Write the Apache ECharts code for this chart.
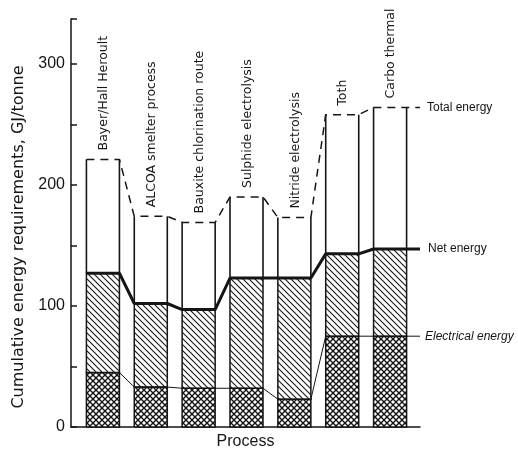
<!DOCTYPE html>
<html><head><meta charset="utf-8">
<script src="https://cdn.jsdelivr.net/npm/echarts@6/dist/echarts.min.js"></script>
<style>html,body{margin:0;padding:0;background:#fff}#c{width:518px;height:455px}</style>
</head><body><div id="c"></div>
<script>
const processes = ['Bayer/Hall Heroult','ALCOA smelter process','Bauxite chlorination route','Sulphide electrolysis','Nitride electrolysis','Toth','Carbo thermal'];
const electricalEnergy = [45, 33, 32, 32, 23, 75, 75];
const netEnergy = [127, 102, 97, 123, 123, 143, 147];
const totalEnergy = [221, 174, 169, 190, 173, 258, 264];
const yTickLabels = [0, 100, 200, 300];
const lineNames = ['Total energy', 'Net energy', 'Electrical energy'];
const yAxisTitle = 'Cumulative energy requirements, GJ/tonne';
const xAxisTitle = 'Process';

const HALF = 0.345;
const XMIN = -0.667, XMAX = 6.625;
const FONT = '"Liberation Sans", "DejaVu Sans", sans-serif';
const WIDE = '"DejaVu Sans", sans-serif';
const INK = '#151515';

function makePattern(kind){
  const s = 6;
  const c = document.createElement('canvas'); c.width = s; c.height = s;
  const g = c.getContext('2d');
  g.fillStyle = '#fff'; g.fillRect(0,0,s,s);
  g.strokeStyle = INK; g.lineWidth = kind === 'cross' ? 1.35 : 1.1;
  const seg = (x1,y1,x2,y2)=>{g.beginPath();g.moveTo(x1,y1);g.lineTo(x2,y2);g.stroke();};
  seg(-1,-1,s+1,s+1); seg(-s-1,-1,1,s+1); seg(s-1,-1,2*s+1,s+1);
  if (kind === 'cross') { seg(-1,s+1,s+1,-1); seg(-s-1,s+1,1,-1); seg(s-1,s+1,2*s+1,-1); }
  return c;
}
const crossPat = makePattern('cross');
const hatchPat = makePattern('hatch');

function stepLine(vals){
  const d = [];
  vals.forEach((v,i)=>{ d.push([i-HALF, v]); d.push([i+HALF, v]); });
  d.push([XMAX, vals[vals.length-1]]);
  return d;
}

const chart = echarts.init(document.getElementById('c'), null, {renderer:'canvas'});
chart.setOption({
  animation: false,
  backgroundColor: '#fff',
  grid: {left: 71, right: 98, top: 19, bottom: 27},
  graphic: [{
    type: 'text', x: 19, y: 237, rotation: Math.PI/2,
    style: {text: yAxisTitle, x: 0, y: 0, align: 'center', verticalAlign: 'middle',
            font: '16px ' + WIDE, fill: INK}
  }],
  xAxis: {
    type: 'value', min: XMIN, max: XMAX,
    axisLine: {show: true, onZero: false, lineStyle: {color: INK, width: 1.5}},
    axisTick: {show: false}, axisLabel: {show: false}, splitLine: {show: false},
    name: xAxisTitle, nameLocation: 'middle', nameGap: 7,
    nameTextStyle: {fontFamily: FONT, fontSize: 16, color: INK, verticalAlign: 'top'}
  },
  yAxis: {
    type: 'value', min: 0, max: 337, interval: 50,
    axisLine: {show: true, onZero: false, lineStyle: {color: INK, width: 1.5}},
    axisTick: {show: true, inside: true, length: 6, lineStyle: {color: INK, width: 1.5}},
    axisLabel: {margin: 6, fontFamily: FONT, fontSize: 16, color: INK,
      formatter: v => yTickLabels.indexOf(v) >= 0 ? String(v) : ''},
    splitLine: {show: false}
  },
  series: [
    {
      type: 'custom', z: 2,
      data: processes.map((p,i)=>[i, electricalEnergy[i], netEnergy[i], totalEnergy[i]]),
      encode: {x: 0, y: [1,2,3]},
      renderItem: function(params, api){
        const i = api.value(0);
        const pL = api.coord([i-HALF, 0]), pR = api.coord([i+HALF, 0]);
        const yE = api.coord([i, api.value(1)])[1];
        const yN = api.coord([i, api.value(2)])[1];
        const yT = api.coord([i, api.value(3)])[1];
        const x0 = pL[0], w = pR[0]-pL[0], y0 = pL[1];
        return {type:'group', children:[
          {type:'rect', shape:{x:x0, y:yE, width:w, height:y0-yE}, style:{fill:{image:crossPat, repeat:'repeat'}, stroke:INK, lineWidth:1.5}},
          {type:'rect', shape:{x:x0, y:yN, width:w, height:yE-yN}, style:{fill:{image:hatchPat, repeat:'repeat'}, stroke:INK, lineWidth:1.5}},
          {type:'line', shape:{x1:x0, y1:yN, x2:x0, y2:yT}, style:{stroke:INK, lineWidth:1.6}},
          {type:'line', shape:{x1:x0+w, y1:yN, x2:x0+w, y2:yT}, style:{stroke:INK, lineWidth:1.6}},
          {type:'text', x:x0+w/2+1, y:yT-9, rotation:Math.PI/2,
           style:{text:processes[i], x:0, y:0, align:'left', verticalAlign:'middle',
                  font:'12.5px ' + WIDE, fill:INK}}
        ]};
      }
    },
    {
      type: 'line', name: lineNames[0], data: stepLine(totalEnergy), z: 3,
      symbol: 'none', silent: true,
      lineStyle: {color: INK, width: 1.5, type: [8, 6]},
      endLabel: {show: true, formatter: lineNames[0], distance: 7, fontFamily: FONT, fontSize: 12, color: INK}
    },
    {
      type: 'line', name: lineNames[1], data: stepLine(netEnergy), z: 4,
      symbol: 'none', silent: true,
      lineStyle: {color: INK, width: 3},
      endLabel: {show: true, formatter: lineNames[1], distance: 8, fontFamily: FONT, fontSize: 12, color: INK}
    },
    {
      type: 'line', name: lineNames[2], data: stepLine(electricalEnergy), z: 4,
      symbol: 'none', silent: true,
      lineStyle: {color: INK, width: 1},
      endLabel: {show: true, formatter: lineNames[2], distance: 5, fontFamily: FONT, fontSize: 12, fontStyle: 'italic', color: INK}
    }
  ]
});
</script>
</body></html>
